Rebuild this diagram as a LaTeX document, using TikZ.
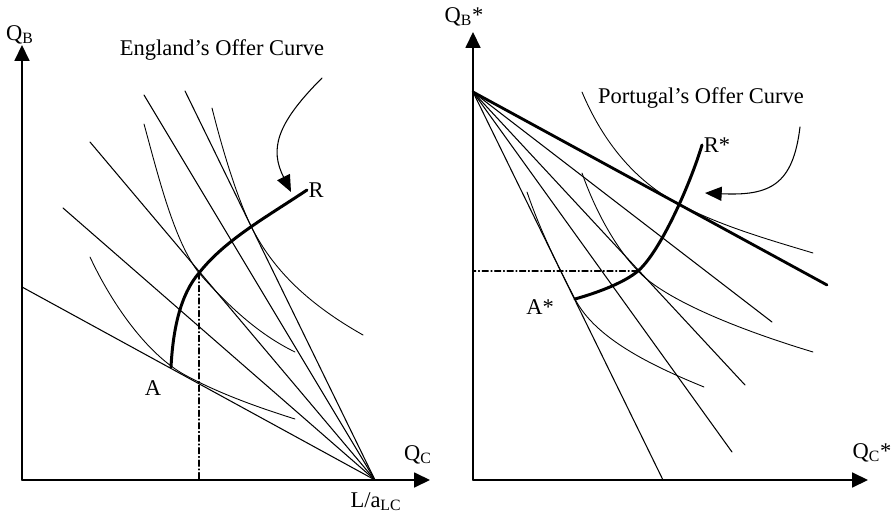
\documentclass[tikz,border=0pt]{standalone}
\usepackage{fontspec}
\setmainfont{Liberation Serif}
\usetikzlibrary{arrows.meta}
\tikzset{
    axis/.style={line width=0.8pt,-{Triangle[length=9pt,width=8.5pt]}},
    budget/.style={line width=0.6pt},
    terms/.style={line width=1.6pt},
    indiff/.style={line width=0.5pt},
    offer/.style={line width=1.7pt},
    pointer/.style={line width=0.6pt,-{Triangle[length=9.5pt,width=8pt]}},
    guide/.style={line width=0.6pt,dash pattern=on 3.5pt off 1.5pt on 0.6pt off 1.5pt},
    lbl/.style={inner sep=0pt},
}

\begin{document}
\begin{tikzpicture}[x=0.02cm,y=-0.02cm,line cap=round,
    every node/.style={font=\fontsize{12.8pt}{15pt}\selectfont}]
\useasboundingbox (0,0) rectangle (892,520);

% England
\coordinate (O) at (22,480);
\coordinate (ytop) at (22,45);
\coordinate (xend) at (430,480);
\coordinate (LaLC) at (375,480);
\coordinate (A) at (171,367);
\coordinate (R) at (307,190);
\coordinate (E) at (199,273);
\draw[axis] (O) -- (ytop);
\draw[axis] (O) -- (xend);
\foreach \p in {(22,287),(63,208),(90,142),(144,95),(185,91)}
    \draw[budget] \p -- (LaLC);
\draw[indiff] (90,257) .. controls (110,300) and (145,353) .. (185,375)
    .. controls (220,394) and (260,408) .. (295,419);
\draw[indiff] (144,124) .. controls (158,175) and (174,241) .. (E)
    .. controls (230,308) and (260,335) .. (295,352);
\draw[indiff] (212,108) .. controls (225,160) and (240,205) .. (253,230)
    .. controls (275,272) and (310,305) .. (363,335);
\draw[guide] (E) -- (E |- O);
\draw[offer] (A) .. controls (173,330) and (180,295) .. (E)
    .. controls (225,240) and (265,218) .. (R);
\coordinate (tailL) at (322,78);
\coordinate (tipL) at (291,192);
\draw[pointer] (tailL) .. controls (275,125) and (270,150) .. (tipL);
\node[lbl] (qb) at (20,35) {Q\textsubscript{B}};
\node[lbl] (qc) at (418,455) {Q\textsubscript{C}};
\node[lbl] (lalc) at (376,502) {L/a\textsubscript{LC}};
\node[lbl] (la) at (153,388) {A};
\node[lbl] (lr) at (316,190) {R};
\node[lbl] (titleL) at (222,50) {England’s Offer Curve};

% Portugal
\coordinate (O*) at (473,480);
\coordinate (ytop*) at (473,32);
\coordinate (xend*) at (868,480);
\coordinate (V) at (473,92);
\coordinate (A*) at (575,299);
\coordinate (R*) at (702,145);
\coordinate (E*) at (638,271);
\coordinate (T*) at (677,203);
\draw[axis] (O*) -- (ytop*);
\draw[axis] (O*) -- (xend*);
\draw[terms] (V) -- (827,285);
\foreach \p in {(772,322),(745,385),(732,452),(663,480)}
    \draw[budget] (V) -- \p;
\draw[indiff] (582,92) .. controls (600,135) and (630,178) .. (T*)
    .. controls (720,226) and (770,240) .. (813,253);
\draw[indiff] (582,173) .. controls (595,210) and (615,247) .. (E*)
    .. controls (665,300) and (740,330) .. (813,352);
\draw[indiff] (527,192) .. controls (540,230) and (556,262) .. (A*)
    .. controls (595,338) and (650,365) .. (704,387);
\draw[guide] (E*) -- (E* -| O*);
\draw[offer] (A*) .. controls (600,292) and (625,282) .. (E*)
    .. controls (660,252) and (690,185) .. (R*);
\coordinate (tailR) at (800,127);
\coordinate (tipR) at (705,193);
\draw[pointer] (tailR) .. controls (793,185) and (770,196) .. (tipR);
\node[lbl] (qbs) at (464,17) {Q\textsubscript{B}*};
\node[lbl] (qcs) at (872,453) {Q\textsubscript{C}*};
\node[lbl] (las) at (540,307) {A*};
\node[lbl] (lrs) at (717,145) {R*};
\node[lbl] (titleR) at (701,98) {Portugal’s Offer Curve};
\end{tikzpicture}
\end{document}
